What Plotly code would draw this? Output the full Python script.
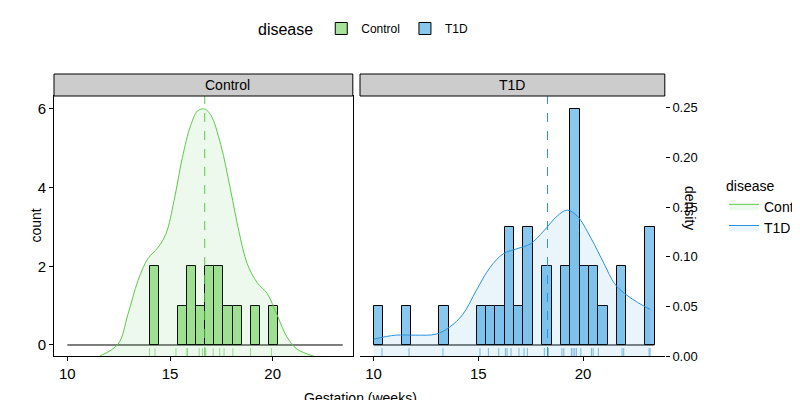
import plotly.graph_objects as go

# histogram bins (ggplot bins=30), counts per bin index
bin_start = 10.0
bin_width = 0.447
n_bins = 30
ctrl_bins = [9, 12, 13, 14, 15, 16, 17, 18, 20, 22]
ctrl_counts = [2, 1, 2, 1, 2, 2, 1, 1, 1, 1]
t1d_bins = [0, 3, 7, 11, 12, 13, 14, 15, 16, 18, 20, 21, 22, 23, 24, 26, 29]
t1d_counts = [1, 1, 1, 1, 1, 1, 3, 1, 3, 2, 2, 6, 2, 2, 1, 2, 3]

# density curves
ctrl_dx = [11.58, 12.47, 12.95, 13.44, 13.92, 14.4, 14.8, 15.2, 15.6, 16.0, 16.34, 16.66,
           16.98, 17.47, 17.95, 18.35, 18.76, 19.24, 19.73, 20.2, 20.7, 21.18, 21.98]
ctrl_dy = [0.0, 0.012, 0.042, 0.076, 0.098, 0.109, 0.123, 0.157, 0.200, 0.232, 0.247, 0.249,
           0.243, 0.213, 0.167, 0.126, 0.093, 0.074, 0.063, 0.042, 0.019, 0.007, 0.0]
t1d_dx = [10.0, 11.05, 12.0, 12.98, 13.62, 14.26, 14.9, 15.55, 16.19, 16.83, 17.48, 18.12,
          18.76, 19.24, 19.72, 20.37, 21.0, 21.5, 21.98, 22.6, 23.2]
t1d_dy = [0.017, 0.021, 0.021, 0.022, 0.029, 0.042, 0.066, 0.089, 0.103, 0.108, 0.113, 0.126,
          0.141, 0.147, 0.141, 0.119, 0.093, 0.073, 0.063, 0.054, 0.047]

ctrl_mean = 16.69
t1d_mean = 18.3

ctrl_rug = [14.0, 14.27, 15.29, 15.82, 15.85, 16.42, 16.58, 16.74, 17.1, 17.42, 17.63,
            18.06, 18.92, 19.94]
t1d_rug = [10.4, 11.69, 13.31, 15.08, 15.48, 15.97, 16.29, 16.37, 16.56, 16.94, 17.18,
           17.34, 18.15, 18.34, 18.99, 19.08, 19.44, 19.52, 19.6, 19.68, 19.89, 20.4,
           20.48, 20.73, 21.86, 21.94, 23.15, 23.2]

GREEN_FILL, GREEN_LINE = "#A8E39A", "#5CC84A"
BLUE_FILL, BLUE_LINE = "#88C7EE", "#2A93DC"
FONT = "Liberation Sans, Arial, sans-serif"


def centers(bins):
    return [bin_start + (b + 0.5) * bin_width for b in bins]


fig = go.Figure()
panels = [
    ("Control", ctrl_bins, ctrl_counts, ctrl_dx, ctrl_dy, ctrl_mean, ctrl_rug,
     GREEN_FILL, GREEN_LINE, "rgba(92,200,74,0.1)", "x", "y", "y3"),
    ("T1D", t1d_bins, t1d_counts, t1d_dx, t1d_dy, t1d_mean, t1d_rug,
     BLUE_FILL, BLUE_LINE, "rgba(42,147,220,0.1)", "x2", "y2", "y4"),
]
edge_end = bin_start + n_bins * bin_width
for name, bins, counts, dx, dy, mean, rug, fill, line, dfill, xa, ya, da in panels:
    fig.add_trace(go.Scatter(x=dx, y=dy, xaxis=xa, yaxis=da, mode="lines",
                             line=dict(color=line, width=1, shape="spline"),
                             fill="tozeroy", fillcolor=dfill, name=name,
                             legend="legend2", hoverinfo="skip"))
    fig.add_trace(go.Scatter(x=[bin_start, edge_end], y=[0, 0], xaxis=xa, yaxis=ya,
                             mode="lines", line=dict(color="black", width=1),
                             showlegend=False, hoverinfo="skip"))
    fig.add_trace(go.Bar(x=centers(bins), y=counts, width=bin_width, xaxis=xa, yaxis=ya,
                         marker=dict(color=fill, line=dict(color="black", width=1)),
                         name=name, legend="legend"))
    for r in rug:
        fig.add_shape(type="line", xref=xa, yref=da, x0=r, x1=r, y0=0, y1=0.008,
                      line=dict(color=line, width=1), opacity=0.6)
    fig.add_shape(type="line", xref=xa, yref=da, x0=mean, x1=mean, y0=0, y1=0.262,
                  line=dict(color=line, width=1, dash="dash"))

xr = [9.35, 23.9]
ydom = [0.13, 0.78]
axis_common = dict(showgrid=False, zeroline=False, showline=True, mirror=True,
                   linecolor="black", linewidth=1, ticks="outside", ticklen=4,
                   tickcolor="black", tickfont=dict(size=15, color="black"),
                   automargin=False)
fig.update_layout(
    width=800, height=400, margin=dict(l=0, r=0, t=0, b=0, autoexpand=False),
    plot_bgcolor="white", paper_bgcolor="white", bargap=0,
    font=dict(family=FONT, color="black"),
    xaxis=dict(domain=[0.0575, 0.431], range=xr, tickvals=[10, 15, 20], **axis_common),
    xaxis2=dict(domain=[0.44, 0.821], range=xr, tickvals=[10, 15, 20], **axis_common),
    yaxis=dict(domain=ydom, range=[-0.28, 6.33], tickvals=[0, 2, 4, 6], anchor="x",
               **axis_common),
    yaxis2=dict(domain=ydom, range=[-0.28, 6.33], anchor="x2", showticklabels=False,
                ticks="", showgrid=False, zeroline=False, automargin=False),
    yaxis3=dict(overlaying="y", range=[0, 0.262], visible=False, anchor="x",
                automargin=False),
    yaxis4=dict(overlaying="y2", range=[0, 0.262], side="right", anchor="x2",
                tickvals=[0, 0.05, 0.1, 0.15, 0.2, 0.25], tickformat=".2f",
                showgrid=False, zeroline=False, ticks="outside", ticklen=4,
                tickcolor="black", tickfont=dict(size=13, color="black"),
                automargin=False),
    legend=dict(orientation="h", x=0.31, y=0.985, xanchor="left", yanchor="top",
                title=dict(text="disease", font=dict(size=16)), font=dict(size=12),
                traceorder="normal"),
    legend2=dict(x=0.895, y=0.5, xanchor="left", yanchor="middle",
                 title=dict(text="disease", side="top", font=dict(size=14)),
                 font=dict(size=14), traceorder="normal", itemwidth=30),
)

# facet strips
for x0, x1, label in [(0.0575, 0.431, "Control"), (0.44, 0.821, "T1D")]:
    fig.add_shape(type="rect", xref="paper", yref="paper", x0=x0, x1=x1, y0=0.78, y1=0.835,
                  fillcolor="#CCCCCC", line=dict(color="black", width=1))
    fig.add_annotation(x=(x0 + x1) / 2, y=0.8075, xref="paper", yref="paper", text=label,
                       yanchor="middle", showarrow=False, font=dict(size=14))

fig.add_annotation(x=0.44, y=0.0, xref="paper", yref="paper", yanchor="bottom",
                   text="Gestation (weeks)", showarrow=False, font=dict(size=14))
fig.add_annotation(x=0.022, y=0.455, xref="paper", yref="paper", text="count",
                   textangle=-90, showarrow=False, font=dict(size=14))
fig.add_annotation(x=0.865, y=0.5, xref="paper", yref="paper", text="density",
                   textangle=90, showarrow=False, font=dict(size=14))

fig.write_html("out.html")
